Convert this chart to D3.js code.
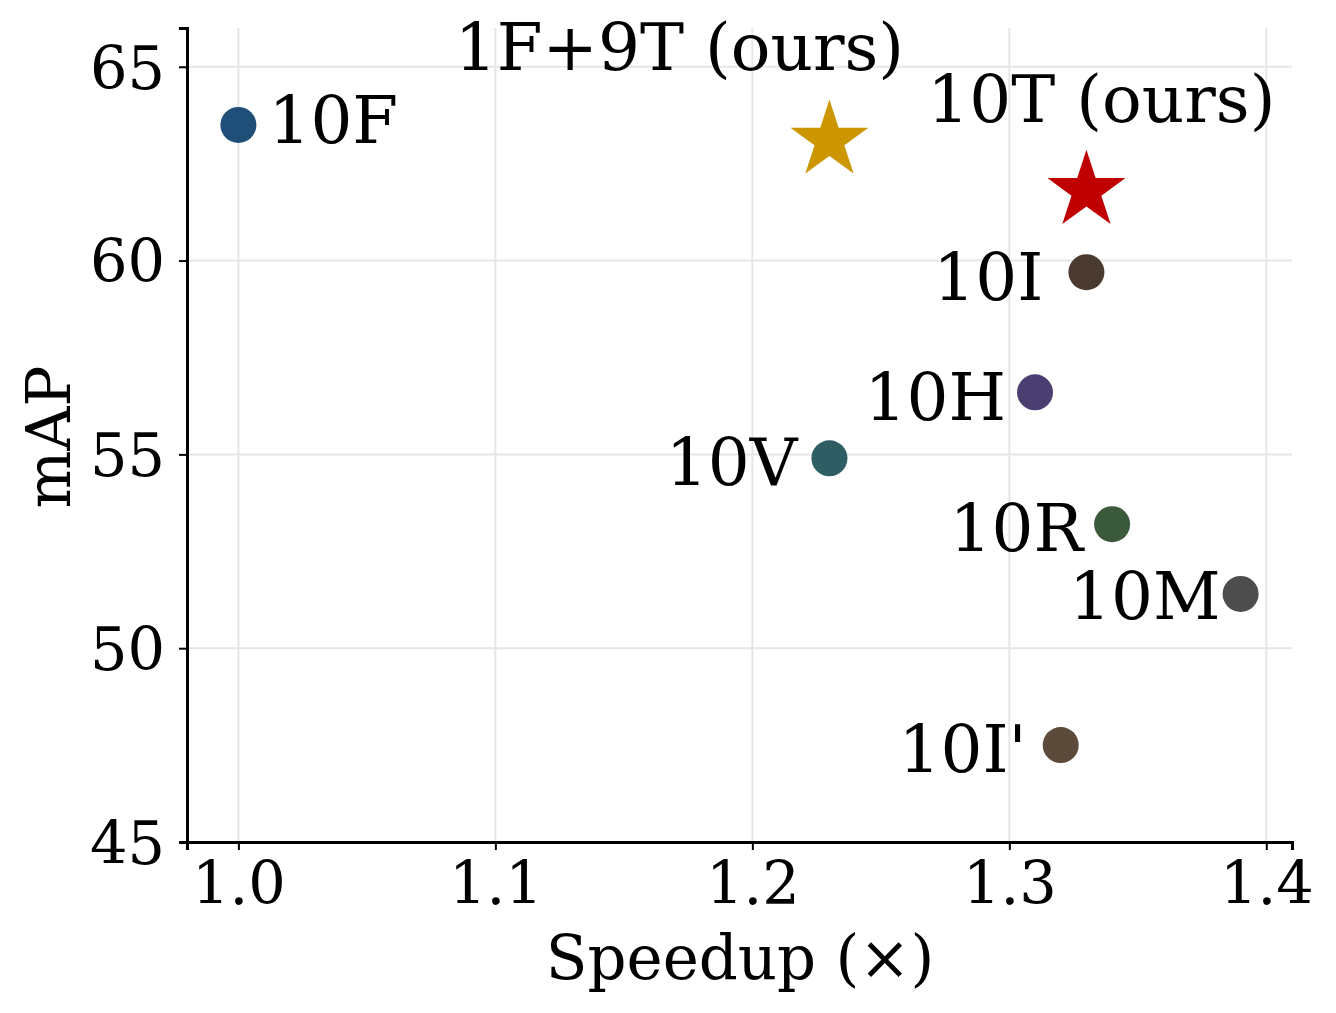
<!DOCTYPE html>
<html>
<head>
<meta charset="utf-8">
<script src="https://cdn.jsdelivr.net/npm/d3@7"></script>
<style>
  body { margin: 0; background: #fff; }
  text { font-family: "DejaVu Serif", serif; }
</style>
</head>
<body>
<div id="chart"></div>
<script>
// data
const names    = ["10F", "1F+9T (ours)", "10T (ours)", "10I", "10H", "10V", "10R", "10M", "10I'"];
const speedups = [1.00, 1.23, 1.33, 1.33, 1.31, 1.23, 1.34, 1.39, 1.32];
const maps     = [63.5, 63.1, 61.8, 59.7, 56.6, 54.9, 53.2, 51.4, 47.5];
const shapes   = ["circle", "star", "star", "circle", "circle", "circle", "circle", "circle", "circle"];
const colors   = ["#1f4e79", "#cc9600", "#c00000", "#4a3a2f", "#4b3f72", "#2e5e63", "#3b5a3c", "#4d4d4d", "#5c4b3a"];
const xTicks   = [1.0, 1.1, 1.2, 1.3, 1.4];
const yTicks   = [45, 50, 55, 60, 65];

const width = 1336, height = 1013;
const margin = {top: 28, right: 44, bottom: 171, left: 187};

const svg = d3.select("#chart")
  .append("svg")
  .attr("width", width)
  .attr("height", height);

// scales
const xScale = d3.scaleLinear()
  .domain([0.98, 1.41])
  .range([margin.left, width - margin.right]);
const yScale = d3.scaleLinear()
  .domain([45, 66])
  .range([height - margin.bottom, margin.top]);

// grid
svg.append("g")
  .selectAll("line")
  .data(xTicks)
  .join("line")
  .attr("x1", d => xScale(d)).attr("x2", d => xScale(d))
  .attr("y1", margin.top).attr("y2", height - margin.bottom)
  .attr("stroke", "#e6e6e6").attr("stroke-width", 2);
svg.append("g")
  .selectAll("line")
  .data(yTicks)
  .join("line")
  .attr("x1", margin.left).attr("x2", width - margin.right)
  .attr("y1", d => yScale(d)).attr("y2", d => yScale(d))
  .attr("stroke", "#e6e6e6").attr("stroke-width", 2);

// axes
const xAxis = svg.append("g")
  .attr("transform", `translate(0,${height - margin.bottom})`)
  .call(d3.axisBottom(xScale).tickValues(xTicks).tickFormat(d3.format(".1f")).tickSizeOuter(0).tickSize(8).tickPadding(12));
const yAxis = svg.append("g")
  .attr("transform", `translate(${margin.left},0)`)
  .call(d3.axisLeft(yScale).tickValues(yTicks).tickSizeOuter(0).tickSize(8).tickPadding(14));

[xAxis, yAxis].forEach(g => {
  g.select(".domain").attr("stroke", "#000").attr("stroke-width", 3);
  g.selectAll(".tick line").attr("stroke", "#000").attr("stroke-width", 2);
  g.selectAll(".tick text")
    .attr("fill", "#000")
    .style("font-family", "DejaVu Serif, serif")
    .style("font-size", "59px");
});
xAxis.selectAll(".tick text").attr("dy", "0.71em");
yAxis.selectAll(".tick text").attr("dy", "0.36em");

// axis titles
svg.append("text")
  .attr("x", 740)
  .attr("y", 979)
  .attr("text-anchor", "middle")
  .style("font-size", "61px")
  .text("Speedup (×)");
svg.append("text")
  .attr("transform", "translate(70,437) rotate(-90)")
  .attr("text-anchor", "middle")
  .style("font-size", "61px")
  .text("mAP");

// points
const points = names.map((n, i) => ({name: n, x: speedups[i], y: maps[i], shape: shapes[i], color: colors[i]}));

svg.append("g")
  .selectAll("path")
  .data(points)
  .join("path")
  .attr("transform", d => `translate(${xScale(d.x)},${yScale(d.y)})`)
  .attr("d", d => d.shape === "star"
    ? d3.symbol(d3.symbolStar, 1890)()
    : d3.symbol(d3.symbolCircle, Math.PI * 18 * 18)())
  .attr("fill", d => d.color);

// label placement (pixel offsets from the marker, anchor)
const labelPlacement = {
  "10F": [30, 18, "start"],
  "1F+9T (ours)": [-150, -70, "middle"],
  "10T (ours)": [15, -69, "middle"],
  "10I": [-43, 28, "end"],
  "10H": [-29, 28, "end"],
  "10V": [-32, 27, "end"],
  "10R": [-29, 27, "end"],
  "10M": [-20, 25, "end"],
  "10I'": [-34, 27, "end"]
};

svg.append("g")
  .selectAll("text")
  .data(points)
  .join("text")
  .attr("x", d => xScale(d.x) + labelPlacement[d.name][0])
  .attr("y", d => yScale(d.y) + labelPlacement[d.name][1])
  .attr("text-anchor", d => labelPlacement[d.name][2])
  .style("font-size", "66px")
  .text(d => d.name);
</script>
</body>
</html>
